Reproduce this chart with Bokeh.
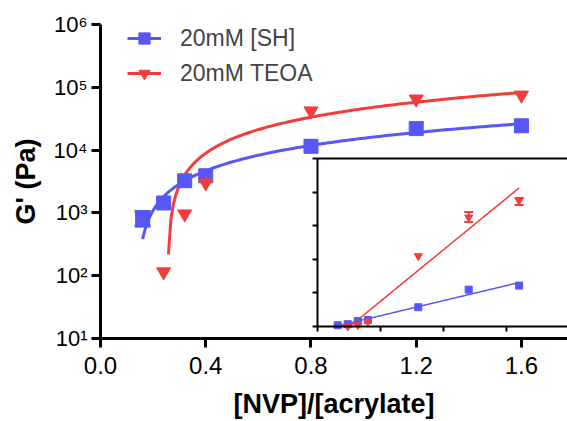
import numpy as np
from bokeh.plotting import figure
from bokeh.models import (ColumnDataSource, FixedTicker, LinearAxis, Range1d, Legend,
                          LegendItem, Whisker, TeeHead, NumeralTickFormatter, LinearScale)
from bokeh.embed import file_html
from bokeh.resources import INLINE

# ---------------- data ----------------
ratio_sh = [0.16, 0.24, 0.32, 0.40, 0.80, 1.20, 1.60]
g_sh = [776, 1440, 3250, 3900, 11500, 22000, 24400]
ratio_teoa = [0.24, 0.32, 0.40, 0.80, 1.20, 1.60]
g_teoa = [115, 960, 3000, 42000, 65000, 75000]

# error bars (mean +/- sd)
err_sh_x = [0.16]
err_sh_lo = [620]
err_sh_hi = [1050]
err_teoa_x = [1.20, 1.60]
err_teoa_lo = [62300, 72400]
err_teoa_hi = [68300, 76600]

x_ticks = [0.0, 0.4, 0.8, 1.2, 1.6]
y_ticks = [1e1, 1e2, 1e3, 1e4, 1e5, 1e6]
y_tick_labels = ["10\u00b9", "10\u00b2", "10\u00b3", "10\u2074", "10\u2075", "10\u2076"]
inset_x_ticks = [0.0, 0.5, 1.0, 1.5]
inset_y_ticks = [0, 20000, 40000, 60000, 80000, 100000]

label_sh = "20mM [SH]"
label_teoa = "20mM TEOA"

BLUE = "#5757f7"
RED = "#f43c3c"
FONT = "Liberation Sans"

# ---------------- linear regression fits (as in the inset) ----------------
def linfit(xs, ys):
    k, b = np.polyfit(np.asarray(xs, float), np.asarray(ys, float), 1)
    xx = np.linspace(min(xs), max(xs), 150)
    yy = k * xx + b
    m = yy > 0
    return xx[m], yy[m]

fx_sh, fy_sh = linfit(ratio_sh, g_sh)
fx_te, fy_te = linfit(ratio_teoa, g_teoa)

src_sh = ColumnDataSource(dict(x=ratio_sh, y=g_sh))
src_te = ColumnDataSource(dict(x=ratio_teoa, y=g_teoa))
src_fsh = ColumnDataSource(dict(x=fx_sh, y=fy_sh))
src_fte = ColumnDataSource(dict(x=fx_te, y=fy_te))
src_esh = ColumnDataSource(dict(x=err_sh_x, lo=err_sh_lo, hi=err_sh_hi))
src_ete = ColumnDataSource(dict(x=err_teoa_x, lo=err_teoa_lo, hi=err_teoa_hi))

# ---------------- main figure ----------------
p = figure(width=567, height=421, y_axis_type="log",
           x_range=Range1d(0, 1.775), y_range=Range1d(10, 1e6),
           output_backend="svg", toolbar_location=None,
           min_border_left=100, min_border_right=0, min_border_top=24, min_border_bottom=81)
p.outline_line_color = None
p.grid.visible = False
p.background_fill_color = "white"
p.border_fill_color = "white"

for ax in (p.xaxis[0], p.yaxis[0]):
    ax.axis_line_width = 3
    ax.major_tick_line_width = 3
    ax.major_tick_out = 9
    ax.major_tick_in = 0
    ax.minor_tick_line_color = None
    ax.major_label_text_font = FONT
    ax.major_label_text_color = "black"
    ax.axis_label_text_font = FONT
    ax.axis_label_text_font_style = "bold"
    ax.axis_label_text_font_size = "27px"
    ax.axis_label_text_color = "black"

p.xaxis.ticker = FixedTicker(ticks=x_ticks, minor_ticks=[])
p.xaxis.formatter = NumeralTickFormatter(format="0.0")
p.xaxis.major_label_text_font_size = "24px"
p.xaxis.major_label_standoff = 9
p.xaxis.axis_label = "[NVP]/[acrylate]"
p.xaxis.axis_label_standoff = 12

p.yaxis.ticker = FixedTicker(ticks=y_ticks, minor_ticks=[])
p.yaxis.major_label_overrides = {t: l for t, l in zip(y_ticks, y_tick_labels)}
p.yaxis.major_label_text_font_size = "22px"
p.yaxis.major_label_standoff = 4
p.yaxis.axis_label = "G' (Pa)"
p.yaxis.axis_label_standoff = 10

# main curves and points
l_sh = p.line("x", "y", source=src_fsh, line_color=BLUE, line_width=3)
l_te = p.line("x", "y", source=src_fte, line_color=RED, line_width=3)
p.add_layout(Whisker(base="x", lower="lo", upper="hi", source=src_esh, dimension="height",
                     line_color=BLUE, line_width=3,
                     upper_head=TeeHead(size=16, line_color=BLUE, line_width=3),
                     lower_head=TeeHead(size=16, line_color=BLUE, line_width=3)))
s_sh = p.scatter("x", "y", source=src_sh, marker="square", size=14, color=BLUE)
s_te = p.scatter("x", "y", source=src_te, marker="inverted_triangle", size=14, color=RED)

# ---------------- inset (linear scale) drawn in the same canvas ----------------
p.extra_x_ranges = {"ix": Range1d(-1.7222, 1.9841)}
p.extra_y_ranges = {"iy": Range1d(-7101, 179882)}
p.extra_x_scales = {"ix": LinearScale()}
p.extra_y_scales = {"iy": LinearScale()}

def inset_axis(**kw):
    a = LinearAxis(x_range_name="ix", y_range_name="iy", axis_line_width=2,
                   major_tick_line_width=2, major_tick_in=0, major_tick_out=5,
                   minor_tick_line_color=None, **kw)
    a.major_label_overrides = {t: "" for t in kw["ticker"].ticks}
    return a

ibx = inset_axis(fixed_location=0, bounds=(0, 2.0),
                 ticker=FixedTicker(ticks=inset_x_ticks, minor_ticks=[]))
p.add_layout(ibx, "below")
ily = inset_axis(fixed_location=0, bounds=(0, 100000),
                 ticker=FixedTicker(ticks=inset_y_ticks, minor_ticks=[]))
p.add_layout(ily, "left")
itop = inset_axis(fixed_location=100000, bounds=(0, 2.0),
                  ticker=FixedTicker(ticks=[], minor_ticks=[]))
itop.major_tick_line_color = None
p.add_layout(itop, "above")

p.line("x", "y", source=src_fsh, line_color=BLUE, line_width=1.5, x_range_name="ix", y_range_name="iy")
p.line("x", "y", source=src_fte, line_color=RED, line_width=1.5, x_range_name="ix", y_range_name="iy")
p.add_layout(Whisker(base="x", lower="lo", upper="hi", source=src_ete, dimension="height",
                     line_color=RED, line_width=2, x_range_name="ix", y_range_name="iy",
                     upper_head=TeeHead(size=9, line_color=RED, line_width=2),
                     lower_head=TeeHead(size=9, line_color=RED, line_width=2)))
p.scatter("x", "y", source=src_sh, marker="square", size=7, color=BLUE, x_range_name="ix", y_range_name="iy")
p.scatter("x", "y", source=src_te, marker="inverted_triangle", size=8, color=RED, x_range_name="ix", y_range_name="iy")

# ---------------- legend ----------------
legend = Legend(items=[LegendItem(label=label_sh, renderers=[l_sh, s_sh]),
                       LegendItem(label=label_teoa, renderers=[l_te, s_te])],
                location=(27, 251), padding=0, margin=0, spacing=7,
                glyph_width=34, glyph_height=28, label_height=28, label_standoff=19,
                label_text_font=FONT, label_text_font_size="23px",
                border_line_color=None, background_fill_alpha=0)
p.add_layout(legend)

open("out.html", "w").write(file_html(p, INLINE))
